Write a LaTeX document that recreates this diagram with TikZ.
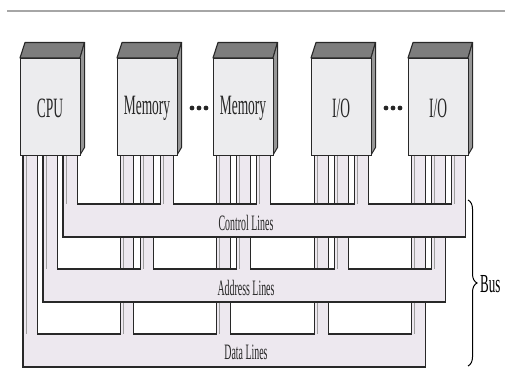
\documentclass[tikz,border=0pt]{standalone}
\usepackage{fontspec}
\usepackage{graphicx}
\setmainfont{Liberation Serif}
\usetikzlibrary{decorations.pathreplacing}
\definecolor{buscol}{RGB}{237,232,239}
\definecolor{frontcol}{RGB}{236,236,238}
\definecolor{topcol}{RGB}{125,125,125}
\definecolor{sidecol}{RGB}{150,150,150}
\definecolor{edgecol}{RGB}{40,40,40}
\newcommand{\squeeze}[2][0.45]{\scalebox{#1}[1]{#2}}
\newcommand{\drawmodule}[3]{%
  \path[topface] (#1,58) -- (#1+60,58) -- (#1+64.5,42.5) -- (#1+5,42.5) -- cycle;
  \path[sideface] (#1+60,58) -- (#1+64.5,42.5) -- (#1+64.5,147.5) -- (#1+60,155) -- cycle;
  \node[front] (#2) at (#1,58) {};
  \node[modlbl] (#2-label) at (#1+30,108) {\squeeze[0.48]{#3}};
}
\newcommand{\stublines}[2]{% left x, bottom y
  \draw[stubline] (#1+3.5,155) -- (#1+3.5,#2);
}
\begin{document}
\begin{tikzpicture}[x=1pt,y=-1pt,
  front/.style={draw=edgecol, line width=1.2pt, fill=frontcol, minimum width=60pt, minimum height=97pt, inner sep=0pt, anchor=north west},
  topface/.style={draw=edgecol, line width=1.1pt, fill=topcol, line join=round},
  sideface/.style={draw=edgecol, line width=1pt, fill=sidecol, line join=round},
  busfill/.style={fill=buscol, draw=edgecol, line width=0.9pt},
  busedge/.style={draw=edgecol, line width=2pt},
  stubline/.style={draw=gray!75, line width=0.6pt},
  modlbl/.style={font=\fontsize{28}{28}\selectfont, inner sep=0pt, text=black!85},
  buslbl/.style={font=\fontsize{22}{22}\selectfont, inner sep=0pt, text=black!85},
  dotmark/.style={fill=black!85}]
\useasboundingbox (0,0) rectangle (505,382);
\fill[white] (0,0) rectangle (505,382);
\draw[gray!70, line width=2pt] (7,11) -- (505,11);

% ---------- Data bus ----------
\path[busfill] (23,155) -- (23,367) -- (425,367) -- (425,155) -- (411,155) -- (411,334) -- (328,334) -- (328,155) -- (314,155) -- (314,334) -- (230,334) -- (230,155) -- (216,155) -- (216,334) -- (133,334) -- (133,155) -- (120,155) -- (120,334) -- (37,334) -- (37,155) -- cycle;
\draw[busedge] (23,155) -- (23,367) -- (425,367);
\foreach \a/\b in {37/120,133/216,230/314,328/411} \draw[busedge] (\a,334) -- (\b,334);
\foreach \l in {23,120,216,314,411} \stublines{\l}{334};
\node[buslbl] (data) at (246,352) {\squeeze{Data Lines}};

% ---------- Address bus ----------
\path[busfill] (43,155) -- (43,302) -- (445,302) -- (445,155) -- (431,155) -- (431,269) -- (348,269) -- (348,155) -- (334,155) -- (334,269) -- (250,269) -- (250,155) -- (236,155) -- (236,269) -- (153,269) -- (153,155) -- (140,155) -- (140,269) -- (57,269) -- (57,155) -- cycle;
\draw[busedge] (43,155) -- (43,302) -- (445,302);
\foreach \a/\b in {57/140,153/236,250/334,348/431} \draw[busedge] (\a,269) -- (\b,269);
\foreach \l in {43,140,236,334,431} \stublines{\l}{269};
\node[buslbl] (address) at (246,288) {\squeeze{Address Lines}};

% ---------- Control bus ----------
\path[busfill] (63,155) -- (63,237) -- (465,237) -- (465,155) -- (451,155) -- (451,204) -- (368,204) -- (368,155) -- (354,155) -- (354,204) -- (270,204) -- (270,155) -- (256,155) -- (256,204) -- (173,204) -- (173,155) -- (160,155) -- (160,204) -- (77,204) -- (77,155) -- cycle;
\draw[busedge] (63,155) -- (63,237) -- (465,237);
\foreach \a/\b in {77/160,173/256,270/354,368/451} \draw[busedge] (\a,204) -- (\b,204);
\foreach \l in {63,160,256,354,451} \stublines{\l}{204};
\node[buslbl] (control) at (246,223) {\squeeze{Control Lines}};

% ---------- Modules ----------
\drawmodule{20}{cpu}{CPU}
\drawmodule{117}{mem1}{Memory}
\drawmodule{213}{mem2}{Memory}
\drawmodule{311}{io1}{I/O}
\drawmodule{408}{io2}{I/O}

% dots
\foreach \x in {192,199,206,386,393,400} \fill[dotmark] (\x,108) circle (2.4);

% brace
\draw[line width=1pt, decorate, decoration={brace, amplitude=9pt}] (468,200) -- (468,366);
\node[font=\fontsize{26}{26}\selectfont, anchor=west, inner sep=0pt] (bus) at (480,284) {\squeeze[0.5]{Bus}};
\end{tikzpicture}
\end{document}
